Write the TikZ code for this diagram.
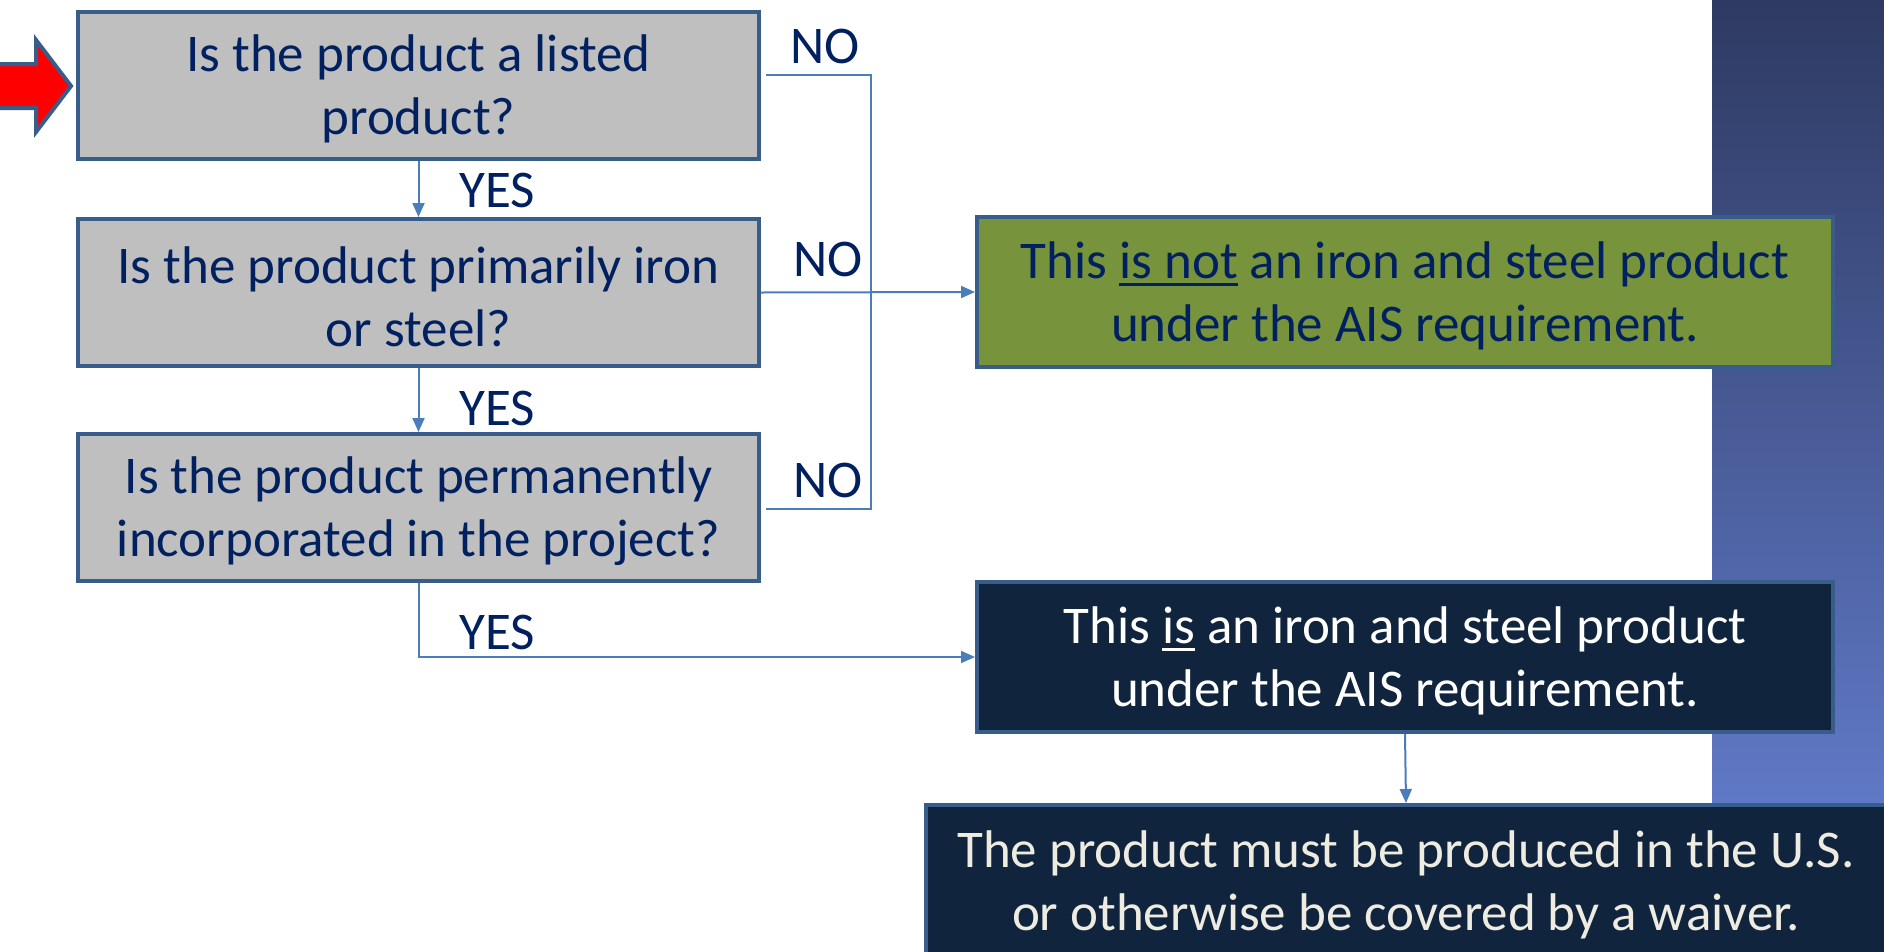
\documentclass[tikz,border=0pt]{standalone}
\usepackage{fontspec}
\setmainfont{Carlito}
\usetikzlibrary{arrows.meta}
\definecolor{navy}{HTML}{002060}
\definecolor{boxline}{HTML}{385D8A}
\definecolor{greybox}{HTML}{BFBFBF}
\definecolor{greenbox}{HTML}{77933C}
\definecolor{darkbox}{HTML}{10243E}
\definecolor{conncol}{HTML}{4A7EBB}
\definecolor{cream}{HTML}{EEECE1}
\definecolor{bartop}{HTML}{2E3A62}
\definecolor{barbot}{HTML}{6079C6}
\newcommand{\myul}[1]{\setbox0\hbox{#1}\rlap{\rule[-7pt]{\wd0}{2.5pt}}\box0\relax}
\newcommand{\tstrut}{\rule{0pt}{45pt}}
\tikzset{
  basebox/.style={draw=boxline, line width=4pt, align=center, inner sep=0pt,
    font=\fontsize{53}{63}\selectfont},
  qbox/.style={basebox, fill=greybox, text=navy, minimum width=681pt, minimum height=147pt},
  rbox/.style={basebox, minimum width=856pt, minimum height=150pt},
  conn/.style={draw=conncol, line width=2pt},
  arr/.style={conn, -{Triangle[length=14pt,width=12pt]}},
  lbl/.style={text=navy, inner sep=0pt, font=\fontsize{53}{63}\selectfont},
}
\begin{document}
\begin{tikzpicture}[x=1pt,y=1pt]
\useasboundingbox (0,0) rectangle (1884,-951);
\clip (0,0) rectangle (1884,-951);
\fill[white] (0,0) rectangle (1884,-951);
% gradient bar
\shade[top color=bartop, bottom color=barbot] (1712,0) rectangle (1884,-803);
% red arrow
\draw[draw=boxline, line width=4pt, fill=red, line join=miter]
  (-10,-64) -- (36,-64) -- (36,-40) -- (71,-86) -- (36,-132) -- (36,-108) -- (-10,-108) -- cycle;
% boxes
\node[qbox] (b1) at (418.5,-85) {\tstrut Is the product a listed\\product?};
\node[qbox] (b2) at (418.5,-292.5) {\tstrut Is the product primarily iron\\or steel?};
\node[qbox] (b3) at (418.5,-507.5) {\tstrut Is the product permanently\\incorporated in the project?};
\node[rbox, fill=greenbox, text=navy] (g) at (1405,-292) {\tstrut This \myul{is not} an iron and steel product\\under the AIS requirement.};
\node[rbox, fill=darkbox, text=white] (d1) at (1405,-657) {\tstrut This \myul{is} an iron and steel product\\under the AIS requirement.};
\node[basebox, fill=darkbox, text=cream, minimum width=960pt, minimum height=152pt] (d2) at (1406,-881) {\tstrut The product must be produced in the U.S.\\or otherwise be covered by a waiver.};
% connectors
\draw[arr] (b1.south) -- (b2.north);
\draw[arr] (b2.south) -- (b3.north);
\draw[arr] (b3.south) |- (d1.west);
\draw[arr] (b2.east) -- (g.west);
\coordinate (n1) at ([shift={(5,10)}]b1.east);
\coordinate (n3) at ([shift={(5,-1.5)}]b3.east);
\draw[conn] (n1) -- ++(105,0) |- (n3);
\draw[arr] (d1.south) -- (d2.north);
% labels
\node[lbl] (no1) at (825,-46) {NO};
\node[lbl] (no2) at (828,-259.5) {NO};
\node[lbl] (no3) at (828,-480.5) {NO};
\node[lbl] (yes1) at (497,-190) {YES};
\node[lbl] (yes2) at (497,-408) {YES};
\node[lbl] (yes3) at (497,-632) {YES};
\end{tikzpicture}
\end{document}
